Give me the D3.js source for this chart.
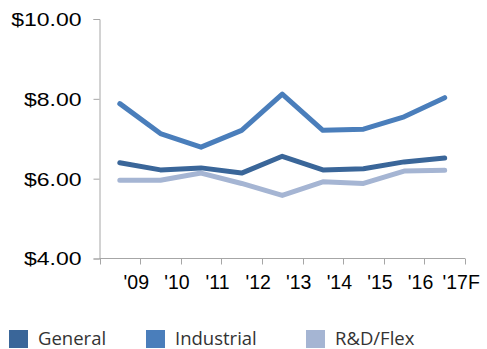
<!DOCTYPE html>
<html>
<head>
<meta charset="utf-8">
<script src="https://cdn.jsdelivr.net/npm/d3@7"></script>
<style>
  html, body { margin: 0; padding: 0; background: #fff; }
  svg { display: block; }
</style>
</head>
<body>
<svg id="chart" width="487" height="349"></svg>
<script>
// Rent per square foot by property type, 2009 through 2017 forecast
const years = ["'09", "'10", "'11", "'12", "'13", "'14", "'15", "'16", "'17F"];
const general    = [6.40, 6.22, 6.27, 6.14, 6.56, 6.22, 6.25, 6.42, 6.52];
const industrial = [7.88, 7.13, 6.79, 7.21, 8.12, 7.21, 7.24, 7.55, 8.03];
const rdFlex     = [5.96, 5.96, 6.14, 5.88, 5.58, 5.92, 5.88, 6.19, 6.21];
const yTicks = [4, 6, 8, 10];

const seriesNames  = ["General", "Industrial", "R&D/Flex"];
const seriesColors = ["#3a6699", "#4a7ebb", "#a5b5d3"];
const seriesValues = [general, industrial, rdFlex];

const svg = d3.select("#chart");
const axisColor = "#a6a6a6";
const labelFont = "'Liberation Sans', Arial, sans-serif";

const x = d3.scaleBand().domain(years).range([99.5, 465]);
const y = d3.scaleLinear().domain([4, 10]).range([258.5, 19]);

// Y axis (labels are drawn wide, stretched horizontally)
const stretch = 1.3;
const yAxis = svg.append("g")
  .attr("transform", "translate(99.5,0)")
  .call(d3.axisLeft(y).tickValues(yTicks).tickSize(6).tickPadding(12)
    .tickFormat(d => "$" + d3.format(".2f")(d)));
yAxis.select(".domain").attr("stroke", axisColor);
yAxis.selectAll(".tick line").attr("stroke", axisColor);
yAxis.selectAll(".tick text")
  .attr("fill", "#000")
  .attr("x", -18 / stretch)
  .attr("transform", `scale(${stretch},1)`)
  .attr("dy", "0.36em")
  .style("font-family", labelFont)
  .style("font-size", "17.7px");

// X axis: ticks on band boundaries, labels in each band
const xAxisG = svg.append("g").attr("transform", "translate(0,258.5)");
xAxisG.append("line")
  .attr("x1", x.range()[0]).attr("x2", x.range()[1])
  .attr("stroke", axisColor);
const boundaries = years.map(d => x(d)).concat([x.range()[1]]);
xAxisG.selectAll("line.tk").data(boundaries).join("line")
  .attr("class", "tk")
  .attr("x1", d => Math.round(d) + 0.5).attr("x2", d => Math.round(d) + 0.5)
  .attr("y1", 0).attr("y2", 6)
  .attr("stroke", axisColor);
xAxisG.selectAll("text").data(years).join("text")
  .attr("x", d => x(d) + x.bandwidth() / 2 + 16.5)
  .attr("y", 30)
  .attr("text-anchor", "middle")
  .attr("fill", "#000")
  .style("font-family", labelFont)
  .style("font-size", "19.5px")
  .text(d => d);

// Lines
const line = d3.line()
  .x((d, i) => x(years[i]) + x.bandwidth() / 2)
  .y(d => y(d));

svg.append("g").selectAll("path").data([2, 0, 1]).join("path")
  .attr("d", i => line(seriesValues[i]))
  .attr("fill", "none")
  .attr("stroke", i => seriesColors[i])
  .attr("stroke-width", 5)
  .attr("stroke-linecap", "round")
  .attr("stroke-linejoin", "round");

// Legend
const legendX = [9, 146, 306];
const legend = svg.append("g").selectAll("g").data(seriesNames).join("g")
  .attr("transform", (d, i) => `translate(${legendX[i]},330)`);
legend.append("rect")
  .attr("width", 19).attr("height", 18)
  .attr("fill", (d, i) => seriesColors[i]);
legend.append("text")
  .attr("x", 29).attr("y", 15)
  .attr("fill", "#333")
  .style("font-family", "'Open Sans', sans-serif")
  .style("font-size", "18.5px")
  .text(d => d);
</script>
</body>
</html>
